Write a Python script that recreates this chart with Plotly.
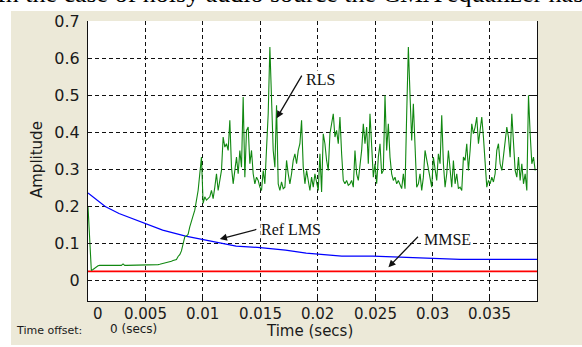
import plotly.graph_objects as go

# ---- data -------------------------------------------------------------
# RLS equaliser error, one sample every 0.1453 ms
rls_dt = 0.0001453
rls_transient = [
    0.200, 0.100, 0.027, 0.030, 0.034, 0.037, 0.040,
    0.041, 0.041, 0.041, 0.041, 0.041, 0.041, 0.041, 0.041, 0.041, 0.041,
    0.041, 0.041, 0.041, 0.041, 0.045,
    0.041, 0.041, 0.041, 0.041, 0.041, 0.041, 0.041, 0.041, 0.041, 0.041,
    0.041, 0.042, 0.042, 0.042, 0.042, 0.042, 0.042, 0.042,
    0.042, 0.043, 0.043, 0.044, 0.045, 0.046, 0.048, 0.047, 0.049, 0.050,
    0.052, 0.054, 0.056, 0.057, 0.065, 0.070, 0.080, 0.100, 0.118, 0.120,
    0.125, 0.145, 0.163, 0.175, 0.190, 0.218, 0.243, 0.288, 0.333,
]
rls_steady = [
    0.208, 0.226, 0.217, 0.221, 0.226, 0.243, 0.221, 0.252, 0.288, 0.243,
    0.270, 0.297, 0.387, 0.360, 0.369, 0.351, 0.432, 0.306, 0.261, 0.297,
    0.333, 0.288, 0.351, 0.306, 0.495, 0.279, 0.405, 0.414, 0.315, 0.351,
    0.288, 0.261, 0.279, 0.270, 0.252, 0.243, 0.297, 0.261, 0.369, 0.450,
    0.630, 0.470, 0.351, 0.306, 0.473, 0.261, 0.243, 0.266, 0.248, 0.252,
    0.324, 0.288, 0.261, 0.288, 0.324, 0.342, 0.315, 0.351, 0.369, 0.432,
    0.306, 0.261, 0.297,
    0.270, 0.243, 0.279, 0.252, 0.288, 0.261, 0.243, 0.342, 0.239, 0.396,
    0.369, 0.324, 0.297, 0.396, 0.423, 0.450, 0.387, 0.405, 0.369, 0.441,
    0.342, 0.270, 0.261, 0.270, 0.257, 0.261, 0.270, 0.252, 0.351, 0.288,
    0.270, 0.306, 0.351, 0.423, 0.369, 0.414, 0.315, 0.450, 0.351, 0.279,
    0.315, 0.261, 0.333, 0.369, 0.288, 0.297, 0.500, 0.351, 0.423, 0.333,
    0.288, 0.270, 0.279, 0.261, 0.270, 0.261, 0.248, 0.288, 0.248, 0.450,
    0.630, 0.500, 0.378, 0.477, 0.333, 0.252, 0.261, 0.288, 0.243, 0.279,
    0.351, 0.324, 0.297, 0.279, 0.252, 0.333, 0.297, 0.270, 0.342, 0.315,
    0.446, 0.315, 0.252, 0.288, 0.351, 0.297, 0.252, 0.324, 0.261, 0.288,
    0.248, 0.252, 0.243, 0.333, 0.324, 0.369, 0.297, 0.351, 0.423, 0.396,
    0.414, 0.441, 0.369, 0.405, 0.441, 0.387, 0.324, 0.252, 0.270, 0.261,
    0.279, 0.266, 0.288, 0.351, 0.369, 0.315, 0.297, 0.333, 0.369, 0.414,
    0.387, 0.333, 0.450, 0.351, 0.297, 0.279, 0.333, 0.270, 0.315, 0.261,
    0.288, 0.243, 0.500, 0.396, 0.315, 0.333, 0.297,
]
rls_values = rls_transient + rls_steady
rls_time = [i * rls_dt for i in range(len(rls_values))]

# reference LMS learning curve
lms_time = [0.0, 0.0015, 0.0027, 0.0049, 0.0065, 0.0085, 0.0099, 0.0114,
            0.0129, 0.0150, 0.0172, 0.0190, 0.0202, 0.0221, 0.0248, 0.0277,
            0.0324, 0.0391]
lms_values = [0.236, 0.200, 0.181, 0.154, 0.136, 0.120, 0.111, 0.102,
              0.093, 0.089, 0.082, 0.074, 0.071, 0.066, 0.066, 0.062,
              0.057, 0.057]

# minimum mean square error floor
mmse_time = [0.0, 0.0391]
mmse_values = [0.025, 0.025]

x_ticks = [0, 0.005, 0.01, 0.015, 0.02, 0.025, 0.03, 0.035]
x_tick_labels = ["0", "0.005", "0.01", "0.015", "0.02", "0.025", "0.03", "0.035"]
y_ticks = [0, 0.1, 0.2, 0.3, 0.4, 0.5, 0.6, 0.7]
y_tick_labels = ["0", "0.1", "0.2", "0.3", "0.4", "0.5", "0.6", "0.7"]

X_RANGE = [0, 0.0391]
Y_RANGE = [-0.055, 0.7]

PANEL = "#ece9d8"
SANS = "DejaVu Sans"
SERIF = "Liberation Serif, Times New Roman, serif"
INK = "#1a1a1a"

fig = go.Figure()
fig.add_trace(go.Scatter(x=mmse_time, y=mmse_values, mode="lines",
                         line=dict(color="#ff0000", width=1.6)))
fig.add_trace(go.Scatter(x=lms_time, y=lms_values, mode="lines",
                         line=dict(color="#0000ff", width=1.2)))
fig.add_trace(go.Scatter(x=rls_time, y=rls_values, mode="lines",
                         line=dict(color="#118811", width=1.1)))

grid = dict(showgrid=True, gridcolor="#111111", griddash="4px,3px",
            gridwidth=1, zeroline=False)
fig.update_xaxes(range=X_RANGE, tickvals=x_ticks, showticklabels=False,
                 ticks="inside", ticklen=4, tickcolor="#111",
                 showline=True, linecolor="#111", linewidth=1.2,
                 mirror=False, **grid)
fig.update_yaxes(range=Y_RANGE, tickvals=y_ticks, ticktext=y_tick_labels,
                 ticks="inside", ticklen=4, tickcolor="#111",
                 showline=True, linecolor="#111", linewidth=1.2,
                 mirror="ticks", ticklabelstandoff=4,
                 tickfont=dict(family=SANS, size=16, color=INK),
                 **grid)

# panel geometry in paper units (plot area is 449 x 280 px)
PW, PH = 449.0, 280.0
def px_x(p):
    return (p - 88) / PW
def px_y(p):
    return (301 - p) / PH

shapes = [
    # white page around the grey figure panel
    dict(type="rect", xref="paper", yref="paper", x0=-0.3, x1=1.3,
         y0=px_y(11), y1=1.3, fillcolor="white", line_width=0, layer="below"),
    dict(type="rect", xref="paper", yref="paper", x0=-0.3, x1=px_x(11),
         y0=-0.4, y1=1.3, fillcolor="white", line_width=0, layer="below"),
    dict(type="rect", xref="paper", yref="paper", x0=-0.3, x1=1.3,
         y0=-0.4, y1=px_y(345), fillcolor="white", line_width=0, layer="below"),
]

annotations = []
for v, t in zip(x_ticks, x_tick_labels):
    annotations.append(dict(x=v, y=px_y(314), xref="x", yref="paper",
                            text=t, showarrow=False, xanchor="center",
                            yanchor="middle", xshift=10 if v == 0 else 0,
                            font=dict(family=SANS, size=15, color=INK)))

annotations += [
    dict(x=0.494, y=px_y(331), xref="paper", yref="paper", text="Time (secs)",
         showarrow=False, xanchor="center", yanchor="middle",
         font=dict(family=SANS, size=15, color=INK)),
    dict(x=px_x(14), y=px_y(330), xref="paper", yref="paper", text="Time offset:",
         showarrow=False, xanchor="left", yanchor="middle",
         font=dict(family=SANS, size=11, color=INK)),
    dict(x=px_x(108), y=px_y(329), xref="paper", yref="paper", text="0 (secs)",
         showarrow=False, xanchor="left", yanchor="middle",
         font=dict(family=SANS, size=12, color=INK)),
    dict(x=px_x(37), y=px_y(160), xref="paper", yref="paper", text="Amplitude",
         textangle=-90, showarrow=False, xanchor="center", yanchor="middle",
         font=dict(family=SANS, size=15, color=INK)),
    # curve labels
    dict(x=0.01889, y=0.542, xref="x", yref="y", text="RLS", showarrow=False,
         xanchor="left", yanchor="middle", bgcolor="white", borderpad=0,
         font=dict(family=SERIF, size=16, color="#111")),
    dict(x=0.01497, y=0.137, xref="x", yref="y", text="Ref LMS", showarrow=False,
         xanchor="left", yanchor="middle", bgcolor="white", borderpad=0,
         font=dict(family=SERIF, size=16, color="#111")),
    dict(x=0.02907, y=0.110, xref="x", yref="y", text="MMSE", showarrow=False,
         xanchor="left", yanchor="middle", bgcolor="white", borderpad=1,
         font=dict(family=SERIF, size=16, color="#111")),
    # pointer arrows
    dict(x=0.01643, y=0.438, xref="x", yref="y", ax=26, ay=-44, text="",
         showarrow=True, arrowhead=2, arrowsize=1.1, arrowwidth=1.3, arrowcolor="#111"),
    dict(x=0.01148, y=0.112, xref="x", yref="y", ax=38, ay=-10, text="",
         showarrow=True, arrowhead=2, arrowsize=1.1, arrowwidth=1.3, arrowcolor="#111"),
    dict(x=0.02616, y=0.036, xref="x", yref="y", ax=31, ay=-32, text="",
         showarrow=True, arrowhead=2, arrowsize=1.1, arrowwidth=1.3, arrowcolor="#111"),
    # running text of the page above the figure
    dict(x=px_x(-5), y=px_y(-6), xref="paper", yref="paper",
         text="In the case of noisy audio source the CMA equalizer has",
         showarrow=False, xanchor="left", yanchor="middle",
         font=dict(family=SERIF, size=26, color="#000")),
]

fig.update_layout(
    width=582, height=347,
    margin=dict(l=88, r=45, t=21, b=46),
    paper_bgcolor=PANEL, plot_bgcolor="white",
    showlegend=False, shapes=shapes, annotations=annotations,
)

fig.write_html("out.html")
